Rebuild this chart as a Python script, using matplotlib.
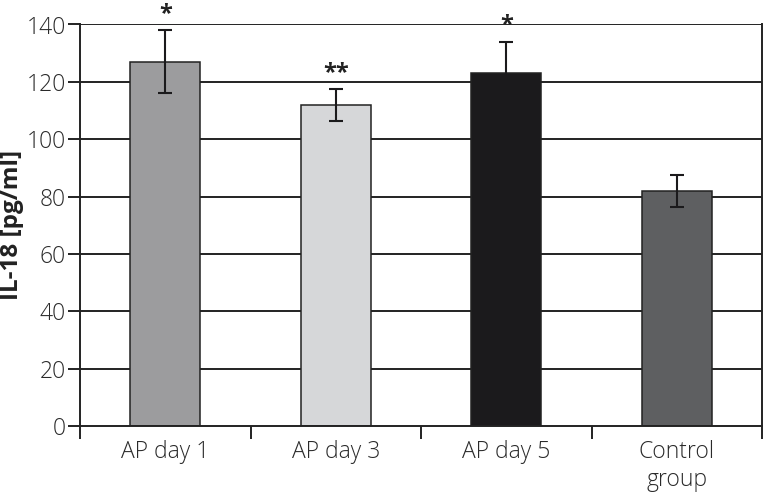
import matplotlib
matplotlib.use("Agg")
import matplotlib.pyplot as plt
import numpy as np

categories = ["AP day 1", "AP day 3", "AP day 5", "Control\ngroup"]
values = [127, 112, 123, 82]
errors = [11, 5.5, 11, 5.5]
signif = ["*", "**", "*", ""]
colors = ["#9c9c9e", "#d6d7d9", "#1b1a1c", "#5e5f61"]
yticks = [0, 20, 40, 60, 80, 100, 120, 140]

plt.rcParams['font.family'] = ['Open Sans', 'DejaVu Sans']

fig = plt.figure(figsize=(7.64, 4.98), dpi=100)
ax = fig.add_axes([80/764, 1-426/498, 682/764, (426-24.5)/498])

x = np.arange(len(categories))
ax.set_xlim(-0.5, len(categories) - 0.5)
ax.set_ylim(0, 140)
for y in yticks[1:]:
    ax.axhline(y, color="#222222", lw=1.4, zorder=0)
ax.bar(x, values, width=0.41, color=colors, edgecolor="#222222", linewidth=1.1, zorder=2)
ax.errorbar(x, values, yerr=errors, fmt="none", ecolor="#1b1a1c", elinewidth=1.5,
            capsize=4.8, capthick=1.5, zorder=3)
for xi, v, e, s in zip(x, values, errors, signif):
    if s:
        ax.text(xi, v + e + 1.5, s, ha="center", va="bottom", fontsize=17,
                fontweight="bold", color="#222222", clip_on=False)

ax.set_yticks(yticks)
ax.set_yticklabels([str(t) for t in yticks], fontsize=16.5, color="#2a2a2a", fontweight="light")
ax.set_xticks(x)
ax.set_xticklabels(categories, fontsize=16.5, color="#2a2a2a", linespacing=1.25, fontweight="light")
ax.tick_params(axis="x", length=0, pad=10)
ax.tick_params(axis="y", length=9, width=1.4, color="#222222", pad=1)
ax.set_xticks(np.arange(-0.5, len(categories)), minor=True)
ax.tick_params(axis="x", which="minor", length=9, width=1.4, color="#222222")
for side in ["left", "right", "bottom"]:
    ax.spines[side].set_linewidth(1.4)
    ax.spines[side].set_color("#222222")
ax.spines["top"].set_visible(False)
ax.set_ylabel("IL-18 [pg/ml]", fontsize=17.5, fontweight="bold", color="#222222", labelpad=2)

fig.savefig("out.png", dpi=100)
